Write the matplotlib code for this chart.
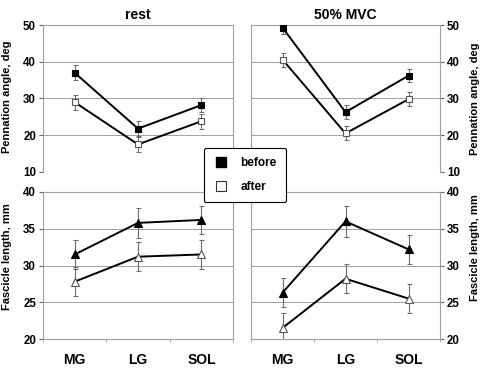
import matplotlib
matplotlib.use("Agg")
import matplotlib.pyplot as plt
from matplotlib.lines import Line2D

plt.rcParams['font.family'] = ['Liberation Sans', 'DejaVu Sans']

categories = ["MG", "LG", "SOL"]

# Pennation angle (deg)
pa_rest_before = [37.0, 21.8, 28.2]
pa_rest_before_err = [2.0, 2.0, 2.0]
pa_rest_after = [29.0, 17.5, 23.8]
pa_rest_after_err = [2.0, 2.0, 2.0]
pa_mvc_before = [49.3, 26.3, 36.2]
pa_mvc_before_err = [1.7, 1.8, 1.8]
pa_mvc_after = [40.6, 20.5, 29.8]
pa_mvc_after_err = [1.9, 1.9, 1.9]

# Fascicle length (mm)
fl_rest_before = [31.5, 35.8, 36.2]
fl_rest_before_err = [2.0, 2.0, 1.9]
fl_rest_after = [27.8, 31.2, 31.5]
fl_rest_after_err = [2.0, 2.0, 2.0]
fl_mvc_before = [26.3, 36.0, 32.2]
fl_mvc_before_err = [2.0, 2.1, 2.0]
fl_mvc_after = [21.5, 28.2, 25.5]
fl_mvc_after_err = [2.0, 2.0, 2.0]

titles = ["rest", "50% MVC"]
pa_ticks = [10, 20, 30, 40, 50]
fl_ticks = [20, 25, 30, 35, 40]

W, H = 482, 371
fig = plt.figure(figsize=(W / 100, H / 100), dpi=100)

def px_axes(x0, y0, x1, y1):
    return fig.add_axes([x0 / W, 1 - y1 / H, (x1 - x0) / W, (y1 - y0) / H])

ax_tl = px_axes(43, 25, 233, 172)
ax_tr = px_axes(251, 25, 440, 172)
ax_bl = px_axes(43, 192, 233, 339)
ax_br = px_axes(251, 192, 440, 339)

xpos = [0.5, 1.5, 2.5]
gray = "#a0a0a0"
errc = "#6e6e6e"

def draw(ax, before, berr, after, aerr, marker, ms):
    ax.errorbar(xpos, before, yerr=berr, fmt="none", ecolor=errc, elinewidth=0.8,
                capsize=1.8, capthick=0.8, zorder=2)
    ax.errorbar(xpos, after, yerr=aerr, fmt="none", ecolor=errc, elinewidth=0.8,
                capsize=1.8, capthick=0.8, zorder=2)
    ax.plot(xpos, before, color="black", lw=1.4, marker=marker, ms=ms,
            mfc="black", mec="black", mew=0.8, zorder=3)
    ax.plot(xpos, after, color="black", lw=1.4, marker=marker, ms=ms,
            mfc="white", mec="#555555", mew=0.8, zorder=3)

draw(ax_tl, pa_rest_before, pa_rest_before_err, pa_rest_after, pa_rest_after_err, "s", 4.6)
draw(ax_tr, pa_mvc_before, pa_mvc_before_err, pa_mvc_after, pa_mvc_after_err, "s", 4.6)
draw(ax_bl, fl_rest_before, fl_rest_before_err, fl_rest_after, fl_rest_after_err, "^", 5.2)
draw(ax_br, fl_mvc_before, fl_mvc_before_err, fl_mvc_after, fl_mvc_after_err, "^", 5.2)

tickfont = dict(fontsize=8.3, fontweight="bold")

for ax, ticks in [(ax_tl, pa_ticks), (ax_tr, pa_ticks), (ax_bl, fl_ticks), (ax_br, fl_ticks)]:
    ax.set_xlim(0, 3)
    ax.set_ylim(ticks[0], ticks[-1])
    ax.set_yticks(ticks)
    ax.set_yticklabels([str(t) for t in ticks], **tickfont)
    ax.grid(axis="y", color=gray, lw=0.7)
    ax.set_axisbelow(True)
    for s in ax.spines.values():
        s.set_color(gray)
        s.set_linewidth(0.8)
    ax.tick_params(axis="y", length=3, width=0.8, color="#666666", pad=2)

for ax in (ax_tl, ax_tr):
    ax.set_xticks([])
    ax.spines["bottom"].set_visible(False)

for ax in (ax_bl, ax_br):
    ax.set_xticks([0, 1, 2, 3])
    ax.set_xticklabels([])
    ax.set_xticks(xpos, minor=True)
    ax.set_xticklabels(categories, minor=True, fontsize=10, fontweight="bold")
    ax.tick_params(axis="x", which="major", length=2.5, width=0.6, color=gray)
    ax.tick_params(axis="x", which="minor", length=0, pad=10)

for ax in (ax_tr, ax_br):
    ax.yaxis.tick_right()
    ax.yaxis.set_label_position("right")

ax_tl.set_title(titles[0], fontsize=10, fontweight="bold", pad=4)
ax_tr.set_title(titles[1], fontsize=10, fontweight="bold", pad=4)

lblfont = dict(fontsize=8, fontweight="bold")
ax_tl.set_ylabel("Pennation angle, deg", **lblfont)
ax_tr.set_ylabel("Pennation angle, deg", rotation=90, **lblfont)
ax_bl.set_ylabel("Fascicle length, mm", **lblfont)
ax_br.set_ylabel("Fascicle length, mm", rotation=90, **lblfont)
ax_tl.yaxis.set_label_coords(-31 / 190, 0.51)
ax_tr.yaxis.set_label_coords(1 + 30 / 189, 0.5)
ax_bl.yaxis.set_label_coords(-31 / 190, 0.56)
ax_br.yaxis.set_label_coords(1 + 30 / 189, 0.62)

handles = [
    Line2D([], [], ls="none", marker="s", ms=7.5, mfc="black", mec="black"),
    Line2D([], [], ls="none", marker="s", ms=7.5, mfc="white", mec="#333333", mew=0.8),
]
leg = fig.legend(handles, ["before", "after"], loc="center",
                 bbox_to_anchor=((203 + 287) / 2 / W, 1 - (149 + 201) / 2 / H),
                 frameon=True, fancybox=True, framealpha=1,
                 prop=dict(size=8.5, weight="bold"), handlelength=1.3,
                 handletextpad=1.0, labelspacing=1.0, borderpad=0.8)
leg.get_frame().set_edgecolor("black")
leg.get_frame().set_linewidth(0.8)

fig.savefig("out.png", dpi=100)
